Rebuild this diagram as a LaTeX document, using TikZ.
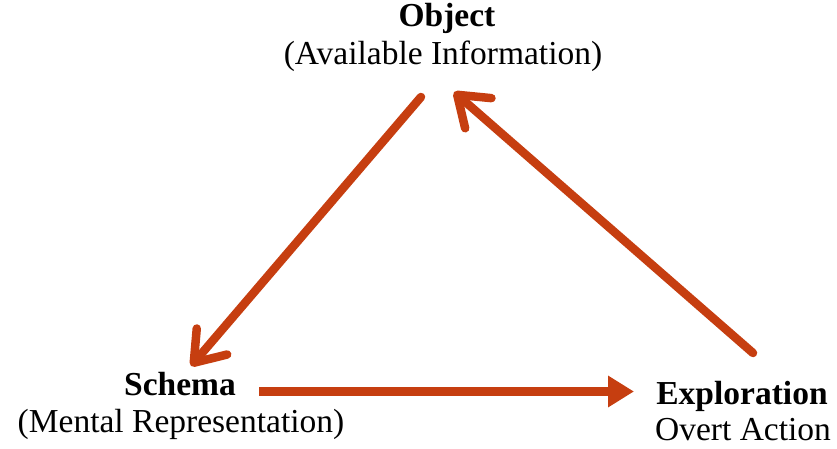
\documentclass[tikz,border=0pt]{standalone}
\usepackage{fontspec}
\setmainfont{Liberation Serif}
\usetikzlibrary{arrows.meta}
\definecolor{arrowred}{RGB}{198,62,16}
\tikzset{
  lbl/.style={anchor=base, inner sep=0pt, font=\fontsize{33.5}{40}\selectfont},
  ttl/.style={lbl, font=\fontsize{33.5}{40}\selectfont\bfseries},
  conn/.style={draw=arrowred, line width=8.5pt},
  barb/.style={conn, line cap=round, -{Straight Barb[length=28pt,width=40pt,line cap=round,line join=round]}},
  tri/.style={conn, -{Triangle[length=26pt,width=30pt]}}
}
\begin{document}
\begin{tikzpicture}[x=1pt,y=-1pt]
\useasboundingbox (0,0) rectangle (837,449);
% labels
\node[ttl] (obj) at (447,27) {Object};
\node[lbl] (objsub) at (443,65) {(Available Information)};
\node[ttl] (sch) at (180,395) {Schema};
\node[lbl] (schsub) at (181,432) {(Mental Representation)};
\node[ttl] (exp) at (742,404) {Exploration};
\node[lbl] (expsub) at (743,440) {Overt Action};
% connector ends
\coordinate (a1s) at (421,97);
\coordinate (a1e) at (191,366);
\coordinate (a2s) at (753,353);
\coordinate (a2e) at (454,92);
\coordinate (a3s) at (259,391.5);
\coordinate (a3e) at (634,391.5);
% connectors
\draw[barb] (a1s) -- (a1e);
\draw[barb] (a2s) -- (a2e);
\draw[tri] (a3s) -- (a3e);
\end{tikzpicture}
\end{document}
